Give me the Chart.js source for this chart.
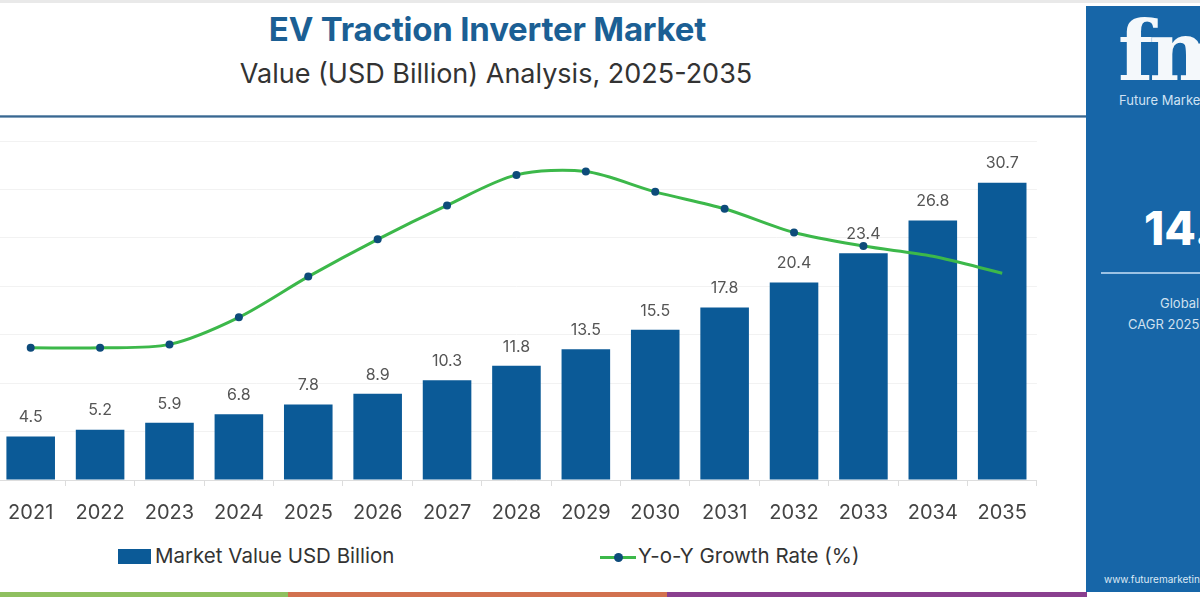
<!DOCTYPE html>
<html>
<head>
<meta charset="utf-8">
<script src="https://cdn.jsdelivr.net/npm/chart.js@4.4.1/dist/chart.umd.min.js"></script>
<style>
  html, body { margin: 0; padding: 0; }
  body { width: 1200px; height: 600px; position: relative; overflow: hidden; background: #fff; font-family: "Inter", "Lato", sans-serif; }
  .abs { position: absolute; }
  #title { left: 0; width: 975px; top: 9px; text-align: center; font-size: 33px; font-weight: 700; color: #1b5f94; letter-spacing: -0.2px; }
  #subtitle { left: 0; width: 992px; top: 57px; text-align: center; font-size: 27px; color: #333; }
  #rule { left: 0; top: 115px; width: 1086px; height: 3px; background: linear-gradient(#9ab6cc, #3a6790 40%, #3a6790 60%, #b9cddd); }
  #chartBox { left: -8px; top: 131px; width: 1050px; height: 409px; }
  .legend { top: 543px; font-size: 20.5px; color: #333; }
  .swatch { display: inline-block; width: 33px; height: 15px; background: #0b5a97; vertical-align: -1px; margin-right: 4px; }
  .linemark { display: inline-block; width: 36px; height: 16px; position: relative; vertical-align: -2px; margin-right: 2px; }
  .linemark::before { content: ""; position: absolute; left: 0; right: 0; top: 7px; height: 3px; background: #3cb84a; }
  .linemark::after { content: ""; position: absolute; left: 14px; top: 4px; width: 9px; height: 9px; border-radius: 50%; background: #0d4b7a; }
  #strip1 { left: 0; top: 592px; width: 288px; height: 5px; background: #8fc060; }
  #strip2 { left: 288px; top: 592px; width: 379px; height: 5px; background: #d2714f; }
  #strip3 { left: 667px; top: 592px; width: 420px; height: 5px; background: #8a3f8f; }
  #panel { left: 1086px; top: 6px; width: 130px; height: 586px; background: #1766a8; color: #fff; }
  #logo { left: 32px; top: 4px; font-family: "DejaVu Serif", serif; font-weight: 700; font-size: 82px; line-height: 82px; color: #f4f8fb; letter-spacing: -4px; }
  #logoSub { left: 33px; top: 86px; font-size: 13px; color: #cfe2f3; white-space: nowrap; }
  #cagr { left: 58px; top: 194px; font-size: 46px; font-weight: 800; white-space: nowrap; }
  #panelRule { left: 15px; top: 266px; width: 120px; height: 2px; background: #9cc2e4; }
  #glob { left: 74px; top: 289px; font-size: 13px; color: #cfe0ef; white-space: nowrap; }
  #cagrTxt { left: 42px; top: 310px; font-size: 13px; color: #cfe0ef; white-space: nowrap; }
  #www { left: 18px; top: 567px; font-size: 10px; color: #dce9f5; white-space: nowrap; }
</style>
</head>
<body>
<div class="abs" style="left:0;top:0;width:1200px;height:3px;background:#e9e9e9"></div>
<div id="title" class="abs">EV Traction Inverter Market</div>
<div id="subtitle" class="abs">Value (USD Billion) Analysis, 2025-2035</div>
<div id="rule" class="abs"></div>

<div id="chartBox" class="abs"><canvas id="evChart"></canvas></div>

<div class="abs legend" style="left:118px"><span class="swatch"></span>Market Value USD Billion</div>
<div class="abs legend" style="left:600px"><span class="linemark"></span>Y-o-Y Growth Rate (%)</div>

<div id="strip1" class="abs"></div>
<div id="strip2" class="abs"></div>
<div id="strip3" class="abs"></div>

<div id="panel" class="abs">
  <div id="logo" class="abs">fmi</div>
  <div id="logoSub" class="abs">Future Market Insights</div>
  <div id="cagr" class="abs">14.7%</div>
  <div id="panelRule" class="abs"></div>
  <div id="glob" class="abs">Global Market</div>
  <div id="cagrTxt" class="abs">CAGR 2025-2035</div>
  <div id="www" class="abs">www.futuremarketinsights.com</div>
</div>

<script>
// chart data
const years = ["2021", "2022", "2023", "2024", "2025", "2026", "2027", "2028", "2029", "2030", "2031", "2032", "2033", "2034", "2035"];
const marketValue = [4.5, 5.2, 5.9, 6.8, 7.8, 8.9, 10.3, 11.8, 13.5, 15.5, 17.8, 20.4, 23.4, 26.8, 30.7];
const growthRate = [13.9, 13.9, 14.0, 14.8, 16.0, 17.1, 18.1, 19.0, 19.1, 18.5, 18.0, 17.3, 16.9, 16.6, 16.1];
const pointSizes = [4, 4, 4, 4, 4, 4, 4, 4, 4, 4, 4, 4, 4, 0, 0];

Chart.defaults.font.family = "Inter, Lato, sans-serif";

// value labels above bars
const barLabels = {
    id: "barLabels",
    afterDatasetsDraw(chart) {
        const ctx = chart.ctx;
        const meta = chart.getDatasetMeta(1);
        ctx.save();
        ctx.font = "16px Inter, Lato, sans-serif";
        ctx.fillStyle = "#555";
        ctx.textAlign = "center";
        ctx.textBaseline = "bottom";
        meta.data.forEach((bar, i) => {
            ctx.fillText(marketValue[i].toFixed(1), bar.x, bar.y - 11);
        });
        ctx.restore();
    }
};

new Chart(document.getElementById("evChart"), {
    data: {
        labels: years,
        datasets: [{
            type: "line",
            label: "Y-o-Y Growth Rate (%)",
            data: growthRate,
            yAxisID: "y1",
            borderColor: "#3cb84a",
            borderWidth: 3,
            tension: 0.3,
            pointRadius: pointSizes,
            pointBackgroundColor: "#0d4b7a",
            pointBorderWidth: 0,
            order: 0
        }, {
            type: "bar",
            label: "Market Value USD Billion",
            data: marketValue,
            yAxisID: "y",
            backgroundColor: "#0b5a97",
            barPercentage: 0.7,
            categoryPercentage: 1,
            order: 1
        }]
    },
    options: {
        responsive: true,
        maintainAspectRatio: false,
        animation: false,
        layout: { padding: { top: 10, left: 0, right: 0, bottom: 0 } },
        plugins: {
            legend: { display: false },
            tooltip: { enabled: false }
        },
        scales: {
            x: {
                offset: true,
                grid: { offset: true, drawOnChartArea: false, tickLength: 6, color: "#ddd" },
                border: { color: "#ddd" },
                ticks: { color: "#444", font: { size: 20 }, padding: 15 }
            },
            y: {
                min: 0,
                max: 35,
                ticks: { display: false, stepSize: 5 },
                grid: { drawTicks: false, color: "#f2f2f2" },
                border: { display: false }
            },
            y1: {
                display: false,
                min: 10,
                max: 20
            }
        }
    },
    plugins: [barLabels]
});
</script>
</body>
</html>
